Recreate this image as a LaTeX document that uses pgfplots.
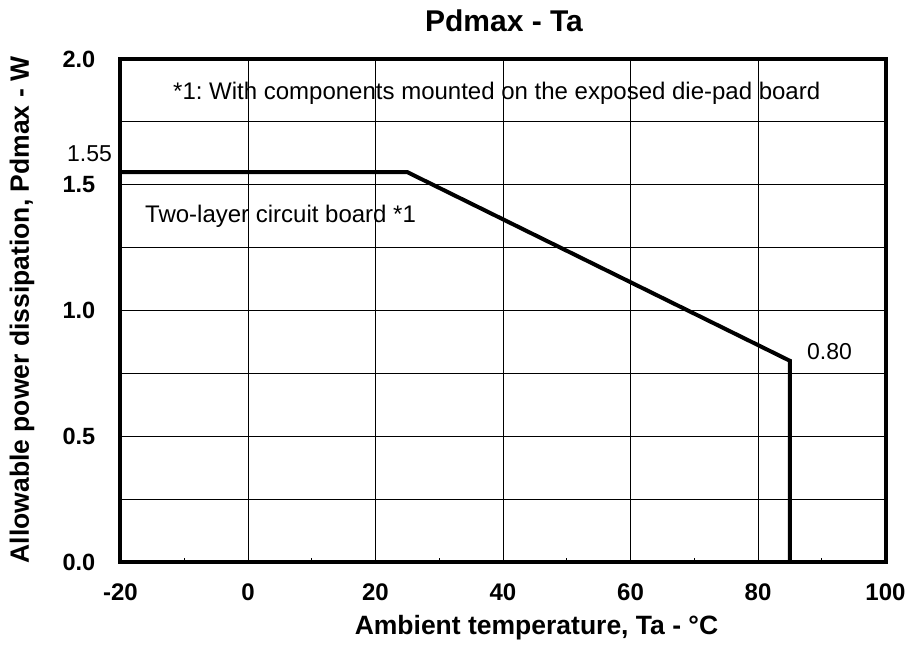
\documentclass[border=0pt]{standalone}
\usepackage{pgfplots}
\pgfplotsset{compat=1.18}
\usepackage{fontspec}
\setmainfont{Liberation Sans}
\frenchspacing
\begin{document}
\begin{tikzpicture}
\begin{axis}[
  at={(0,0)}, anchor=south west,
  scale only axis,
  width=765bp, height=503bp,
  xmin=-20, xmax=100, ymin=0, ymax=2,
  xtick={-20,0,20,40,60,80,100},
  xticklabels={-20,0,20,40,60,80,100},
  minor xtick={-10,10,30,50,70,90},
  ytick={0,0.5,1,1.5,2},
  yticklabels={0.0,0.5,1.0,1.5,2.0},
  minor ytick={0.25,0.75,1.25,1.75},
  tick pos=left, tick align=inside,
  major tick length=6bp, minor tick length=4bp,
  every tick/.style={black, line width=1bp},
  xmajorgrids, ymajorgrids, yminorgrids,
  major grid style={black, line width=1bp},
  minor grid style={black, line width=1bp},
  axis line style={line width=4bp},
  xticklabel style={font=\fontsize{24bp}{28bp}\selectfont\bfseries, anchor=base, inner sep=0pt, yshift=-38bp},
  yticklabel style={font=\fontsize{23.5bp}{27bp}\selectfont\bfseries, anchor=east, inner sep=0pt, xshift=-25bp},
  clip=false,
]
\addplot[black, line width=4bp, line join=miter] coordinates {(-20,1.55) (25,1.55) (85,0.80) (85,0)};
\end{axis}
% title and labels
\node[font=\fontsize{30bp}{34bp}\selectfont\bfseries] at (383.5bp,541bp) {Pdmax - Ta};
\node[font=\fontsize{26.5bp}{30bp}\selectfont\bfseries] at (416bp,-66bp) {Ambient temperature, Ta - °C};
\node[font=\fontsize{26.5bp}{30bp}\selectfont\bfseries, rotate=90] at (-98.5bp,252bp) {Allowable power dissipation, Pdmax - W};
% annotations
\node[font=\fontsize{24bp}{28bp}\selectfont, anchor=base west, inner sep=0pt] at (52.5bp,462bp) {*1: With components mounted on the exposed die-pad board};
\node[font=\fontsize{24bp}{28bp}\selectfont, anchor=base west, inner sep=0pt] at (24.5bp,339bp) {Two-layer circuit board *1};
\node[font=\fontsize{23bp}{27bp}\selectfont, anchor=base west, inner sep=0pt] at (686.5bp,202bp) {0.80};
\node[font=\fontsize{23bp}{27bp}\selectfont, anchor=base west, inner sep=0pt] at (-53.5bp,400bp) {1.55};
\pgfresetboundingbox
\path[use as bounding box] (-120.5bp,-90bp) rectangle (789.5bp,562bp);
\end{tikzpicture}
\end{document}
